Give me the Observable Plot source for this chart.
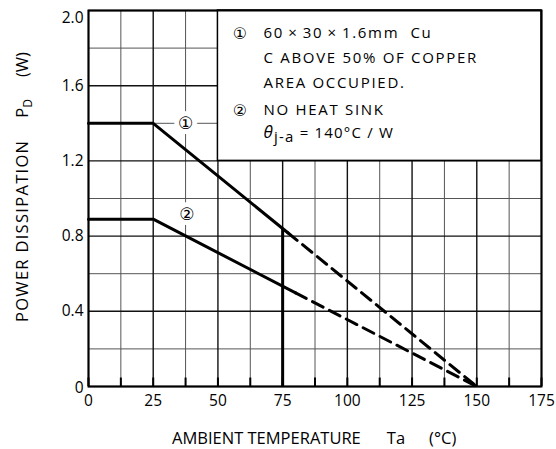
<!DOCTYPE html>
<html><head><meta charset="utf-8">
<script src="https://cdn.jsdelivr.net/npm/d3@7"></script>
<script src="https://cdn.jsdelivr.net/npm/@observablehq/plot@0.6"></script>
<style>body{margin:0;background:#fff}</style>
</head><body><div id="chart"></div>
<script>
const xTicks = [0, 25, 50, 75, 100, 125, 150, 175];
const yTicks = [0, 0.4, 0.8, 1.2, 1.6, 2.0];
const xMinor = [12.5, 37.5, 62.5, 87.5, 112.5, 137.5, 162.5];
const yMinor = [0.2, 0.6, 1.0, 1.4, 1.8];

const curve1Solid = [{t: 0, p: 1.4}, {t: 25, p: 1.4}, {t: 77, p: 0.818}];
const curve1Dash  = [{t: 77, p: 0.818}, {t: 150, p: 0}];
const curve2Solid = [{t: 0, p: 0.89}, {t: 25, p: 0.89}, {t: 80, p: 0.498}];
const curve2Dash  = [{t: 80, p: 0.498}, {t: 150, p: 0}];
const limitLine = [{t: 75, p0: 0, p1: 0.84}];

const curveLabels = [{t: 37.5, p: 1.4, s: "①"}, {t: 38, p: 0.915, s: "②"}];
const legendBox = [{x1: 50, x2: 175, y1: 1.2, y2: 2.0}];
const legendMarks = [{t: 58.5, p: 1.878, s: "①"}, {t: 58.5, p: 1.468, s: "②"}];
const legendLines = [
  {t: 67.6, p: 1.878, s: "60\u2009×\u200930\u2009×\u20091.6mm  Cu"},
  {t: 67.6, p: 1.745, s: "C ABOVE 50% OF COPPER"},
  {t: 67.6, p: 1.612, s: "AREA OCCUPIED."},
  {t: 67.6, p: 1.468, s: "NO HEAT SINK"}
];
const thetaLine = [{t: 67.6, p: 1.346, sym: "θ", sub: "j-a", rest: " = 140°C / W"}];

const xLabelParts = ["AMBIENT TEMPERATURE", "Ta", "(°C)"];
const yLabelParts = ["POWER DISSIPATION", "P", "D", "(W)"];

const font = "'Open Sans', 'DejaVu Sans', sans-serif";

const chart = Plot.plot({
  width: 556, height: 449,
  marginLeft: 88, marginRight: 15, marginTop: 10, marginBottom: 63,
  style: {fontFamily: font, fontSize: "15.5px", color: "#000", background: "#fff"},
  x: {domain: [0, 175], ticks: xTicks, tickSize: 0, tickPadding: 8, label: null},
  y: {domain: [0, 2], ticks: yTicks, tickSize: 0, tickPadding: 5, label: null,
      tickFormat: d => d === 0 ? "0" : d.toFixed(1)},
  marks: [
    Plot.ruleX(xMinor, {stroke: "#555", strokeWidth: 1}),
    Plot.ruleY(yMinor, {stroke: "#555", strokeWidth: 1}),
    Plot.ruleX(xTicks, {stroke: "#111", strokeWidth: 1.4}),
    Plot.ruleY(yTicks, {stroke: "#111", strokeWidth: 1.4}),
    Plot.ruleX(xTicks.concat(xMinor), {y1: 0, y2: 0.045, stroke: "#000", strokeWidth: 2}),
    Plot.rect(legendBox, {x1: "x1", x2: "x2", y1: "y1", y2: "y2", fill: "white", stroke: "#000", strokeWidth: 1.5}),
    Plot.ruleX(limitLine, {x: "t", y1: "p0", y2: "p1", stroke: "#000", strokeWidth: 3}),
    Plot.line(curve1Solid, {x: "t", y: "p", stroke: "#000", strokeWidth: 3}),
    Plot.line(curve2Solid, {x: "t", y: "p", stroke: "#000", strokeWidth: 3}),
    Plot.line(curve1Dash, {x: "t", y: "p", stroke: "#000", strokeWidth: 3, strokeDasharray: "12,7"}),
    Plot.line(curve2Dash, {x: "t", y: "p", stroke: "#000", strokeWidth: 3, strokeDasharray: "12,7"}),
    Plot.text(curveLabels, {x: "t", y: "p", text: "s", fontSize: 17, fill: "#000", stroke: "white", strokeWidth: 10}),
    Plot.text(legendMarks, {x: "t", y: "p", text: "s", fontSize: 16, fill: "#000"}),
    Plot.text(legendLines, {x: "t", y: "p", text: "s", fontSize: 15, textAnchor: "start", fill: "#000"}),
    Plot.text(thetaLine, {x: "t", y: "p", text: d => d.sym + d.sub + d.rest, fontSize: 15, textAnchor: "start", fill: "#000"}),
    Plot.frame({stroke: "#000", strokeWidth: 2})
  ]
});

const svg = d3.select(chart);
const textGroups = svg.selectAll('g[aria-label="text"]').nodes();
d3.select(textGroups[2]).attr("letter-spacing", "1.7px");
d3.select(textGroups[3]).attr("letter-spacing", "1.2px");

// rebuild theta line with italic symbol and subscript
svg.selectAll("text").each(function() {
  const d0 = thetaLine[0];
  if (this.textContent === d0.sym + d0.sub + d0.rest) {
    const t = d3.select(this);
    t.text("");
    t.append("tspan").attr("font-style", "italic").attr("font-size", 17).text(d0.sym);
    t.append("tspan").attr("dy", 4).text(d0.sub);
    t.append("tspan").attr("dy", -4).text(d0.rest);
  }
});

// nudge end tick labels like the reference
svg.selectAll('g[aria-label="y-axis tick label"] text').each(function() {
  if (this.textContent === "2.0") d3.select(this).attr("dy", "0.5em");
  if (this.textContent === "0") d3.select(this).attr("dy", "0.08em");
});

// axis labels
const xl = svg.append("text")
  .attr("x", 172).attr("y", 444).attr("text-anchor", "start")
  .attr("font-size", 16.5).attr("fill", "#000");
xl.append("tspan").text(xLabelParts[0]);
xl.append("tspan").attr("dx", 26).text(xLabelParts[1]);
xl.append("tspan").attr("dx", 24).text(xLabelParts[2]);

const yl = svg.append("text")
  .attr("transform", `translate(22,322) rotate(-90)`)
  .attr("text-anchor", "start").attr("dy", "0.35em")
  .attr("font-size", 16.5).attr("fill", "#000");
yl.append("tspan").attr("letter-spacing", "1.3px").text(yLabelParts[0]);
yl.append("tspan").attr("dx", 22).text(yLabelParts[1]);
yl.append("tspan").attr("dy", 4).attr("font-size", 12).text(yLabelParts[2]);
yl.append("tspan").attr("dy", -4).attr("dx", 22).text(yLabelParts[3]);

document.getElementById("chart").appendChild(chart);
</script>
</body></html>
